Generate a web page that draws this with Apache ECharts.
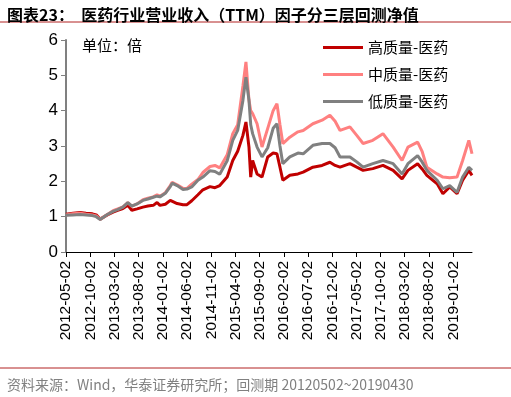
<!DOCTYPE html>
<html>
<head>
<meta charset="utf-8">
<script src="https://cdn.jsdelivr.net/npm/echarts@6/dist/echarts.min.js"></script>
<style>
html, body { margin: 0; padding: 0; background: #fff; }
#chart { width: 511px; height: 397px; }
</style>
</head>
<body>
<div id="chart"></div>
<script>
// 采样日期（回测期 20120502~20190430）
var dates = ['2012-05-02','2012-06-15','2012-07-30','2012-09-05','2012-10-15','2012-11-08','2012-12-03',
	'2013-01-17','2013-02-22','2013-03-23','2013-04-25','2013-05-26','2013-06-20','2013-07-23','2013-08-29','2013-09-29','2013-11-02','2013-11-26','2013-12-14',
	'2014-01-17','2014-02-17','2014-03-01','2014-04-01','2014-05-08','2014-06-02','2014-07-02','2014-08-10','2014-09-10','2014-10-25','2014-11-25','2014-12-25',
	'2015-02-10','2015-03-17','2015-04-17','2015-05-20','2015-06-08','2015-06-27','2015-07-08','2015-07-20','2015-08-17','2015-09-17','2015-10-23','2015-11-26','2015-12-20',
	'2016-01-08','2016-01-26','2016-03-10','2016-04-30','2016-06-02','2016-08-02','2016-09-29','2016-11-17','2016-12-20',
	'2017-01-20','2017-03-23','2017-05-05','2017-06-14','2017-08-14','2017-10-17','2017-12-20',
	'2018-02-14','2018-03-23','2018-05-23','2018-06-20','2018-07-20','2018-09-23','2018-10-29','2018-12-11',
	'2019-01-26','2019-03-02','2019-04-10','2019-04-30'];

var highQ = [1.07,1.10,1.12,1.10,1.08,1.05,0.93,1.05,1.13,1.18,
	1.23,1.32,1.18,1.22,1.27,1.30,1.32,1.40,1.32,1.35,
	1.46,1.44,1.37,1.34,1.34,1.45,1.62,1.76,1.85,1.82,
	1.88,2.12,2.59,2.85,3.30,3.68,2.97,2.12,2.59,2.21,
	2.12,2.69,2.80,2.78,2.40,2.03,2.17,2.21,2.26,2.40,
	2.45,2.54,2.45,2.40,2.50,2.40,2.31,2.36,2.45,2.31,
	2.07,2.31,2.50,2.35,2.17,1.93,1.65,1.84,1.65,2.03,
	2.31,2.17];

var midQ = [1.05,1.08,1.10,1.07,1.05,1.02,0.93,1.06,1.17,1.22,
	1.28,1.40,1.30,1.36,1.48,1.52,1.56,1.62,1.58,1.68,
	1.88,1.97,1.90,1.80,1.80,1.92,2.05,2.25,2.42,2.45,
	2.38,2.75,3.35,3.60,4.70,5.38,4.30,4.00,3.92,3.63,
	2.97,3.50,4.00,4.20,3.60,3.07,3.25,3.40,3.44,3.63,
	3.73,3.87,3.70,3.44,3.54,3.30,3.07,3.16,3.35,2.97,
	2.59,2.97,3.11,2.85,2.40,2.21,2.12,2.10,2.12,2.59,
	3.16,2.78];

var lowQ = [1.04,1.05,1.06,1.05,1.03,1.00,0.92,1.06,1.15,1.20,
	1.27,1.40,1.30,1.36,1.46,1.50,1.55,1.58,1.56,1.66,
	1.85,1.95,1.88,1.77,1.78,1.84,2.03,2.12,2.30,2.28,
	2.20,2.58,3.16,3.44,4.29,4.95,4.29,3.60,3.35,2.97,
	2.69,2.95,3.50,3.63,3.00,2.50,2.69,2.80,2.78,3.02,
	3.07,3.07,2.95,2.69,2.69,2.55,2.40,2.50,2.59,2.50,
	2.21,2.50,2.73,2.55,2.31,2.03,1.79,1.88,1.69,2.12,
	2.40,2.31];

// x轴刻度标签
var tickDates = ['2012-05-02','2012-10-02','2013-03-02','2013-08-02','2014-01-02','2014-06-02','2014-11-02',
	'2015-04-02','2015-09-02','2016-02-02','2016-07-02','2016-12-02','2017-05-02','2017-10-02',
	'2018-03-02','2018-08-02','2019-01-02'];

var seriesNames = ['高质量-医药', '中质量-医药', '低质量-医药'];
var seriesColors = ['#C00000', '#FF8080', '#808080'];

function toTime(s) {
	var p = s.split('-');
	return new Date(+p[0], +p[1] - 1, +p[2]).getTime();
}
function pad(n) { return n < 10 ? '0' + n : '' + n; }
function fmtDate(t) {
	var d = new Date(t);
	return d.getFullYear() + '-' + pad(d.getMonth() + 1) + '-' + pad(d.getDate());
}
function pairs(vals) {
	return vals.map(function(v, i) { return [toTime(dates[i]), v]; });
}

var tickTimes = tickDates.map(toTime);
var allValues = [highQ, midQ, lowQ];

var chart = echarts.init(document.getElementById('chart'));
chart.setOption({
	backgroundColor: '#fff',
	animation: false,
	title: [{
		text: '图表23：  医药行业营业收入（TTM）因子分三层回测净值',
		left: 2, top: 2,
		textStyle: { fontFamily: 'Noto Sans CJK SC', fontSize: 16, fontWeight: 'bold', color: '#000' }
	}, {
		text: '单位：倍',
		left: 77, top: 33,
		textStyle: { fontFamily: 'Noto Sans CJK SC', fontSize: 15, fontWeight: 'normal', color: '#000' }
	}, {
		text: '资料来源：Wind，华泰证券研究所；回测期 20120502~20190430',
		left: 2, top: 373,
		textStyle: { fontFamily: 'Noto Sans CJK SC', fontSize: 14, fontWeight: 'normal', color: '#808080' }
	}],
	graphic: [{
		type: 'line', shape: { x1: 0, y1: 22, x2: 511, y2: 22 },
		style: { stroke: '#B22222', lineWidth: 1 }
	}, {
		type: 'line', shape: { x1: 0, y1: 368, x2: 511, y2: 368 },
		style: { stroke: '#B22222', lineWidth: 1 }
	}],
	legend: {
		orient: 'vertical',
		left: 318, top: 35,
		itemWidth: 40, itemHeight: 3,
		itemGap: 12,
		icon: 'rect',
		textStyle: { fontFamily: 'Noto Sans CJK SC', fontSize: 15, color: '#000', padding: [0, 0, 0, 0] },
		data: seriesNames
	},
	grid: { left: 66, right: 39, top: 40, bottom: 145 },
	xAxis: {
		type: 'value',
		min: toTime('2012-05-02'),
		max: toTime('2019-04-30'),
		axisLine: { lineStyle: { color: '#000', width: 1 } },
		axisTick: { show: true, length: 5, customValues: tickTimes, lineStyle: { color: '#000' } },
		axisLabel: {
			customValues: tickTimes,
			rotate: 90,
			margin: 9,
			fontFamily: 'Liberation Sans',
			fontSize: 15.5,
			color: '#000',
			formatter: function(v) { return fmtDate(v); }
		},
		splitLine: { show: false }
	},
	yAxis: {
		type: 'value',
		min: 0, max: 6, interval: 1,
		axisLine: { show: true, lineStyle: { color: '#808080', width: 2 } },
		axisTick: { show: true, length: 5, lineStyle: { color: '#808080' } },
		axisLabel: { fontFamily: 'Liberation Sans', fontSize: 17, color: '#000', margin: 8 },
		splitLine: { show: false }
	},
	series: seriesNames.map(function(name, i) {
		return {
			name: name,
			type: 'line',
			data: pairs(allValues[i]),
			showSymbol: false,
			symbol: 'none',
			lineStyle: { color: seriesColors[i], width: 3 },
			itemStyle: { color: seriesColors[i] },
			z: 2 + i
		};
	})
});
</script>
</body>
</html>
